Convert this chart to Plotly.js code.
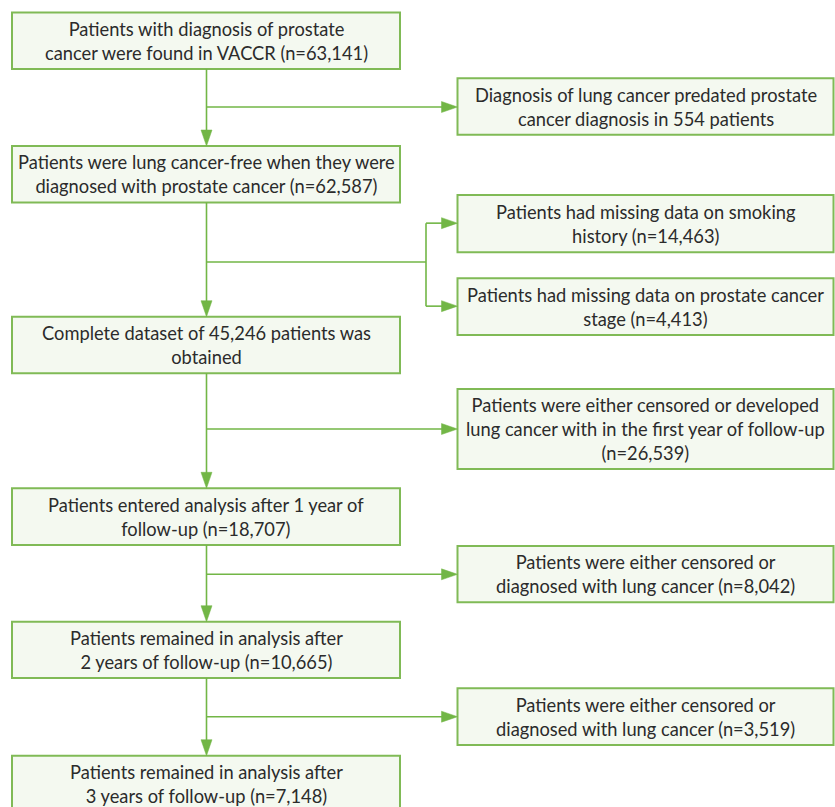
<!DOCTYPE html>
<html>
<head>
<meta charset="utf-8">
<script src="https://cdn.plot.ly/plotly-3.0.1.min.js"></script>
<style>html,body{margin:0;padding:0;background:#fff;}#chart{width:835px;height:807px;}</style>
</head>
<body>
<div id="chart"></div>
<script>
// ---- content ----
const mainSteps = [
  "Patients with diagnosis of prostate<br>cancer were found in VACCR (n=63,141)",
  "Patients were lung cancer-free when they were<br>diagnosed with prostate cancer (n=62,587)",
  "Complete dataset of 45,246 patients was<br>obtained",
  "Patients entered analysis after 1 year of<br>follow-up (n=18,707)",
  "Patients remained in analysis after<br>2 years of follow-up (n=10,665)",
  "Patients remained in analysis after<br>3 years of follow-up (n=7,148)"
];
const exclusions = [
  "Diagnosis of lung cancer predated prostate<br>cancer diagnosis in 554 patients",
  "Patients had missing data on smoking<br>history (n=14,463)",
  "Patients had missing data on prostate cancer<br>stage (n=4,413)",
  "Patients were either censored or developed<br>lung cancer with in the first year of follow-up<br>(n=26,539)",
  "Patients were either censored or<br>diagnosed with lung cancer (n=8,042)",
  "Patients were either censored or<br>diagnosed with lung cancer (n=3,519)"
];
// which exclusion boxes branch off between main step i and i+1
const branchTargets = [[0], [1, 2], [3], [4], [5]];

// ---- layout geometry ----
const W = 835, H = 807;
const leftX = [12, 400];
const rightX = [457.5, 833.5];
const leftY = [[12.5, 69], [146, 202.5], [316.7, 373.3], [488.3, 545], [621.7, 678], [755.7, 815]];
const rightY = [[78.3, 134.7], [195, 252.3], [278.3, 335], [389, 469], [546, 602.3], [688.3, 745]];
const branchY = [107, 262, 429, 574.3, 716.7];
const splitX = 426;
const mainX = 206.5;

const BORDER = "#80ba56";
const FILL = "#f4f9f0";
const LINE = "#72b646";
const TEXT = "#2b2b2b";
const headL = 16, headW = 5.5;

const shapes = [];
const annotations = [];

function box(x0, x1, y0, y1) {
  shapes.push({type: "rect", xref: "x", yref: "y", x0, x1, y0, y1,
    line: {color: BORDER, width: 2}, fillcolor: FILL, layer: "below"});
}
function seg(x0, y0, x1, y1) {
  shapes.push({type: "line", xref: "x", yref: "y", x0, y0, x1, y1,
    line: {color: LINE, width: 1.6}});
}
function headDown(x, y) {
  shapes.push({type: "path", xref: "x", yref: "y",
    path: `M ${x - headW} ${y - headL} L ${x + headW} ${y - headL} L ${x} ${y} Z`,
    fillcolor: LINE, line: {color: LINE, width: 0.5}});
}
function headRight(x, y) {
  shapes.push({type: "path", xref: "x", yref: "y",
    path: `M ${x - headL} ${y - headW} L ${x - headL} ${y + headW} L ${x} ${y} Z`,
    fillcolor: LINE, line: {color: LINE, width: 0.5}});
}
function label(text, x, y) {
  annotations.push({text, x, y, xref: "x", yref: "y", showarrow: false,
    align: "center", xanchor: "center", yanchor: "middle",
    font: {family: "Lato, 'Open Sans', sans-serif", size: 18.3, color: TEXT}});
}

mainSteps.forEach((t, i) => {
  box(leftX[0], leftX[1], leftY[i][0], leftY[i][1]);
  label(t, (leftX[0] + leftX[1]) / 2, (leftY[i][0] + Math.min(leftY[i][1], leftY[i][0] + 56.5)) / 2);
});
exclusions.forEach((t, i) => {
  box(rightX[0], rightX[1], rightY[i][0], rightY[i][1]);
  label(t, (rightX[0] + rightX[1]) / 2, (rightY[i][0] + rightY[i][1]) / 2);
});

branchTargets.forEach((targets, i) => {
  const yTop = leftY[i][1], yBot = leftY[i + 1][0];
  seg(mainX, yTop, mainX, yBot - headL + 1);
  headDown(mainX, yBot);
  const by = branchY[i];
  if (targets.length === 1) {
    seg(mainX, by, rightX[0] - headL + 1, by);
    headRight(rightX[0], by);
  } else {
    seg(mainX, by, splitX, by);
    const ys = targets.map(k => (rightY[k][0] + rightY[k][1]) / 2 - 0.5);
    seg(splitX, Math.min(...ys), splitX, Math.max(...ys));
    ys.forEach(y => {
      seg(splitX, y, rightX[0] - headL + 1, y);
      headRight(rightX[0], y);
    });
  }
});

const layout = {
  width: W, height: H,
  margin: {l: 0, r: 0, t: 0, b: 0},
  paper_bgcolor: "#ffffff", plot_bgcolor: "#ffffff",
  showlegend: false,
  xaxis: {range: [0, W], visible: false, fixedrange: true},
  yaxis: {range: [H, 0], visible: false, fixedrange: true},
  shapes, annotations
};
Plotly.newPlot("chart", [{x: [], y: [], type: "scatter"}], layout, {staticPlot: true, displayModeBar: false});
</script>
</body>
</html>
